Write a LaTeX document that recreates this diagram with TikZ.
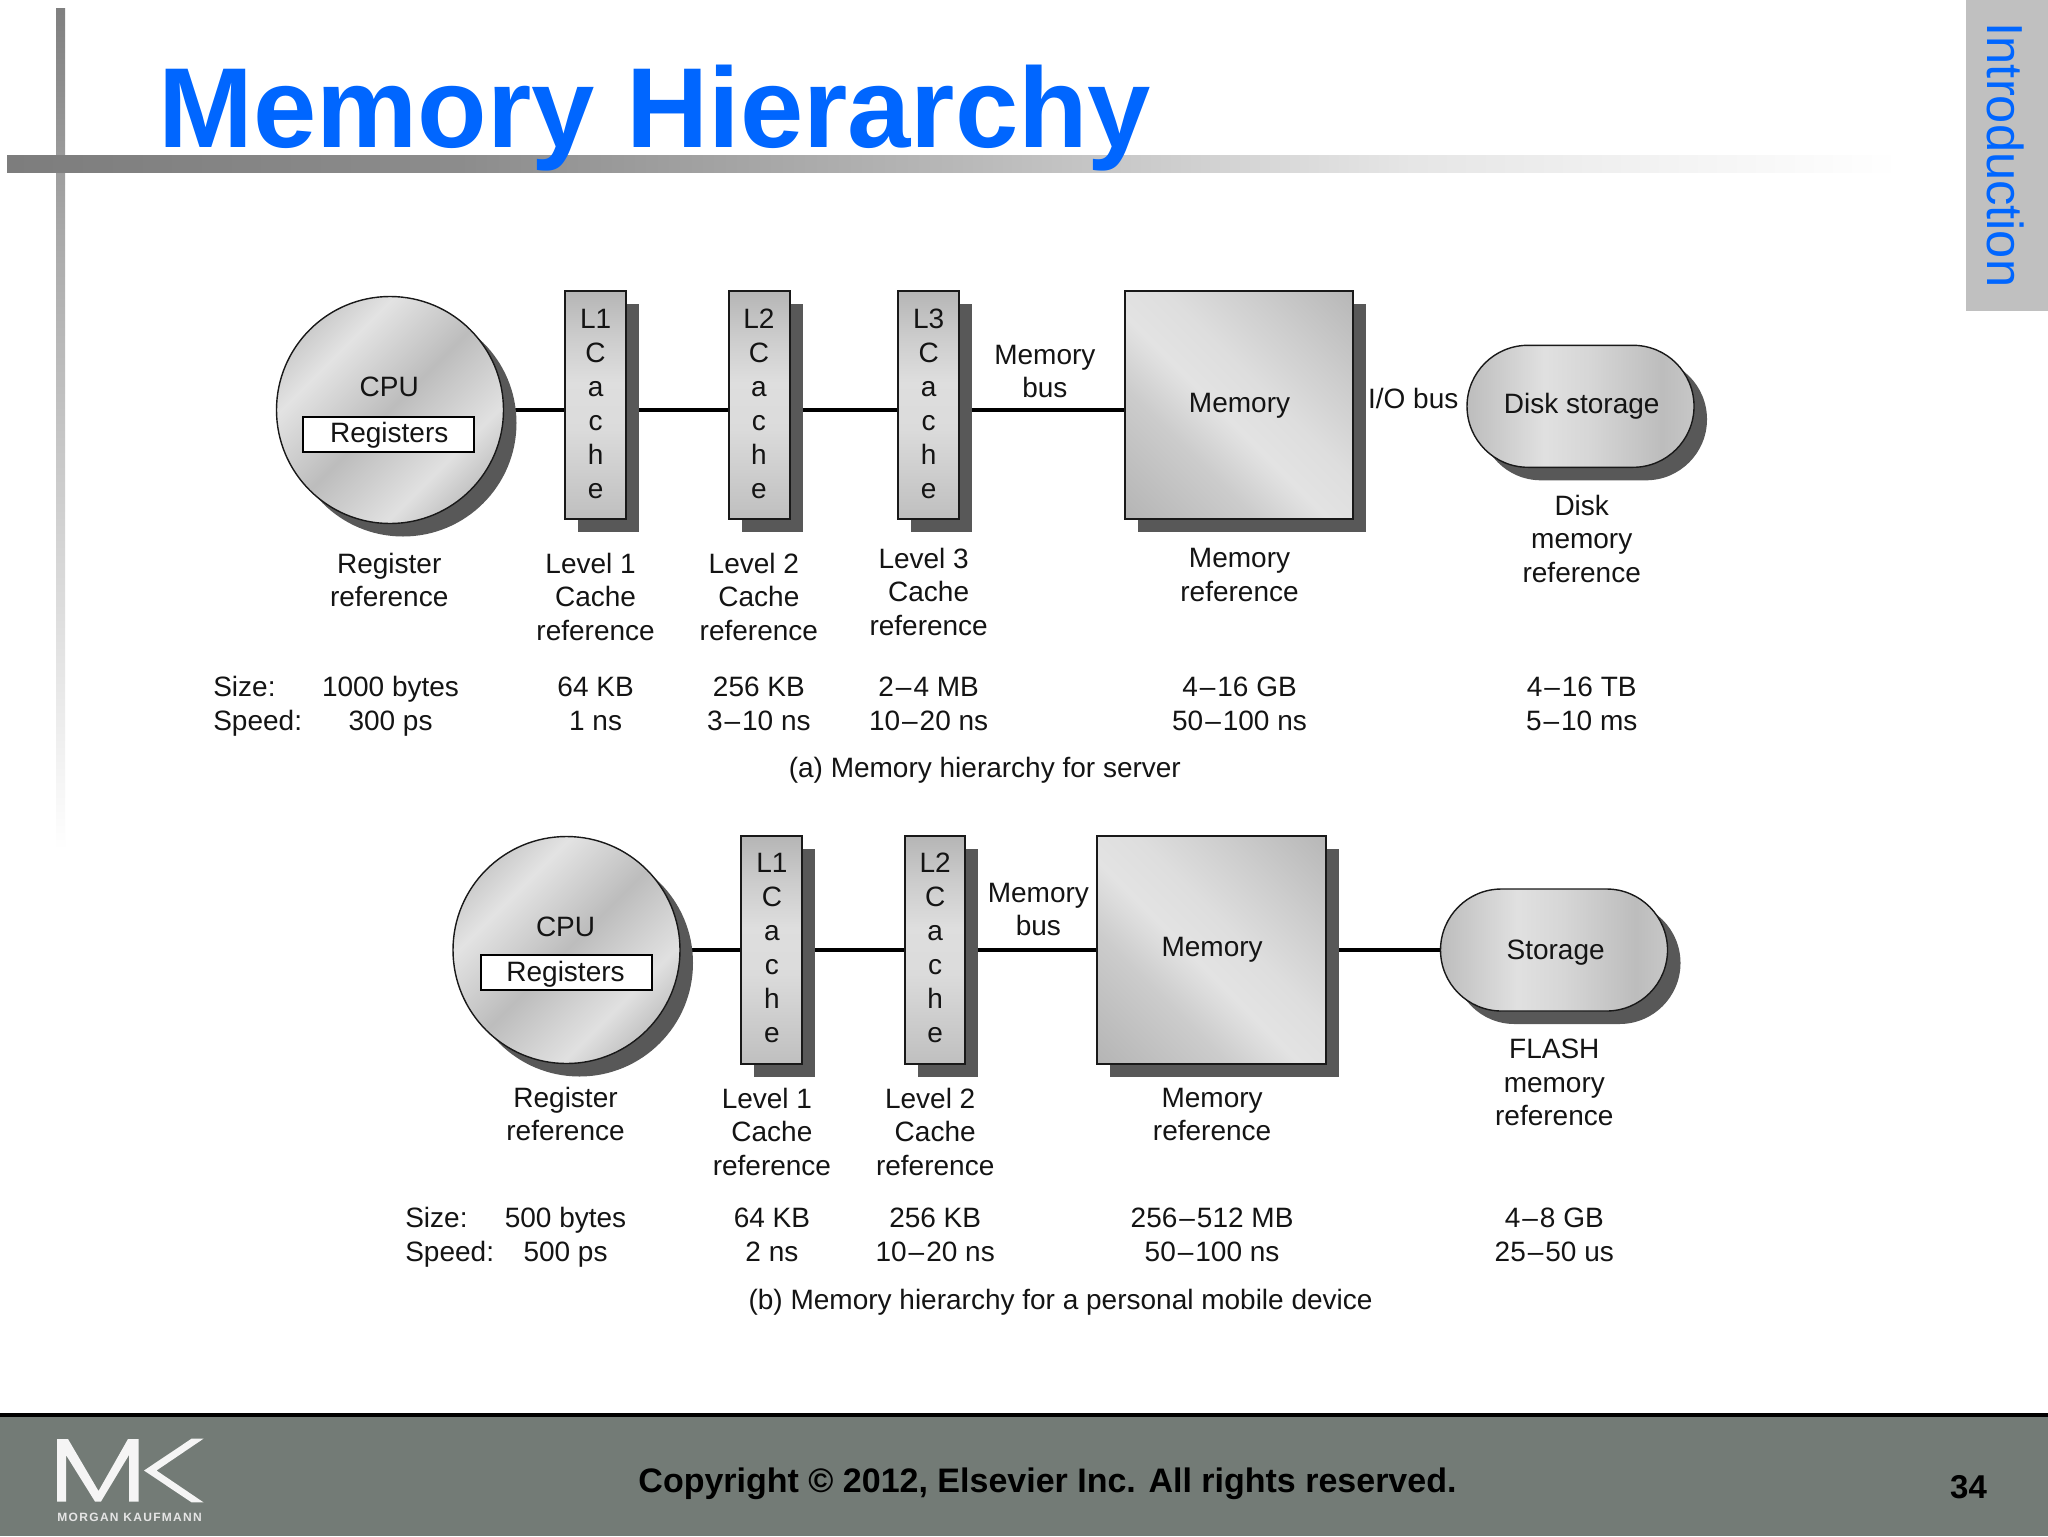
\documentclass[tikz,border=0pt]{standalone}
\usepackage{fontspec}
\setmainfont{Liberation Sans}
\usetikzlibrary{shapes.misc,backgrounds}
\pgfdeclarelayer{pagebg}
\pgfdeclarelayer{busses}
\pgfsetlayers{pagebg,busses,background,main}
\definecolor{titleblue}{HTML}{0066FF}
\definecolor{shadowgray}{HTML}{585858}
\definecolor{footgray}{HTML}{737B76}
\definecolor{tabgray}{HTML}{C0C0C0}
\pgfdeclareverticalshading{metalmem}{100bp}{rgb(0bp)=(.71,.71,.71);rgb(15bp)=(.71,.71,.71);rgb(35bp)=(.80,.80,.80);rgb(46bp)=(.89,.89,.89);rgb(56bp)=(.87,.87,.87);rgb(70bp)=(.80,.80,.80);rgb(85bp)=(.72,.72,.72);rgb(100bp)=(.72,.72,.72)}
\pgfdeclareverticalshading{metalcpu}{100bp}{rgb(0bp)=(.75,.75,.75);rgb(25bp)=(.77,.77,.77);rgb(33bp)=(.88,.88,.88);rgb(50bp)=(.74,.74,.74);rgb(67bp)=(.89,.89,.89);rgb(75bp)=(.80,.80,.80);rgb(100bp)=(.75,.75,.75)}
\pgfdeclareverticalshading{metalbox}{100bp}{rgb(0bp)=(.74,.74,.74);rgb(25bp)=(.75,.75,.75);rgb(45bp)=(.86,.86,.86);rgb(55bp)=(.87,.87,.87);rgb(65bp)=(.80,.80,.80);rgb(75bp)=(.71,.71,.71);rgb(100bp)=(.71,.71,.71)}
\pgfdeclareverticalshading{metaldisk}{100bp}{rgb(0bp)=(.76,.76,.76);rgb(25bp)=(.78,.78,.78);rgb(32bp)=(.74,.74,.74);rgb(48bp)=(.84,.84,.84);rgb(58bp)=(.88,.88,.88);rgb(75bp)=(.74,.74,.74);rgb(100bp)=(.74,.74,.74)}
\pgfdeclarehorizontalshading{barfade}{100bp}{color(0bp)=(white);rgb(25bp)=(.49,.49,.49);rgb(37bp)=(.55,.55,.55);rgb(50bp)=(.72,.72,.72);rgb(62bp)=(.90,.90,.90);rgb(75bp)=(1,1,1);color(100bp)=(white)}
\pgfdeclareverticalshading{barvfade}{100bp}{rgb(0bp)=(1,1,1);rgb(25bp)=(1,1,1);rgb(40bp)=(.86,.86,.86);rgb(60bp)=(.68,.68,.68);rgb(75bp)=(.50,.50,.50);rgb(100bp)=(.50,.50,.50)}
\tikzset{
  txt/.style={font=\fontsize{14}{16.75}\selectfont,align=center,inner sep=0pt,text=black!92,yshift=-1.3pt},
  lettering/.style={font=\fontsize{14}{17}\selectfont,align=center,inner sep=0pt,text=black!92,yshift=-1.3pt},
  cpudim/.style={circle,minimum size=113.5pt,inner sep=0pt},
  cachedim/.style={rectangle,minimum width=30.4pt,minimum height=114pt,inner sep=0pt},
  memdim/.style={rectangle,minimum width=114.3pt,minimum height=114pt,inner sep=0pt},
  diskdim/.style={rounded rectangle,minimum width=113.5pt,minimum height=61pt,inner sep=0pt},
  shadowfill/.style={fill=shadowgray,draw=none},
  cpushape/.style={cpudim,draw=black!90,line width=.7pt,shading=metalcpu,shading angle=45},
  cachebox/.style={cachedim,draw=black!90,line width=1pt,shading=metalbox},
  membox/.style={memdim,draw=black!90,line width=1pt,shading=metalmem,shading angle=-45},
  diskshape/.style={diskdim,draw=black!90,line width=.7pt,shading=metaldisk,shading angle=90},
  regbox/.style={draw=black,line width=1pt,fill=white,minimum width=85.5pt,minimum height=17.5pt,inner sep=0pt},
  bus/.style={line width=2pt,draw=black},
}
\newcommand{\cachetext}[1]{\strut #1\\\strut C\\\strut a\\\strut c\\\strut h\\\strut e}
\newcommand{\nd}{\kern1pt–\kern1pt}
\newcommand{\lv}[1]{\strut Level #1\kern5pt}
\begin{document}
\begin{tikzpicture}[x=0.5pt,y=-0.5pt]
\useasboundingbox (0,0) rectangle (2048,1536);
\begin{pgfonlayer}{pagebg}
\fill[white] (0,0) rectangle (2048,1536);
\end{pgfonlayer}
% frame bars
\shade[shading=barvfade] (56,9) rectangle (65,850);
\shade[shading=barfade] (7,155) rectangle (1900,172);
% side tab
\fill[tabgray] (1966,0) rectangle (2048,311);
\node[rotate=-90,anchor=base,inner sep=0pt,text=titleblue,font=\fontsize{25.3}{30}\selectfont] (tab) at (1987,155) {Introduction};
% title
\node[anchor=base west,inner sep=0pt,text=titleblue,font=\fontsize{56.9}{60}\selectfont\bfseries] (title) at (158,147.5) {Memory Hierarchy};
% footer
\fill[footgray] (0,1417) rectangle (2048,1536);
\fill[black] (0,1413) rectangle (2048,1417);
\fill[white!96!black] (57,1439) -- (68,1439) -- (98.5,1491) -- (128,1439) -- (138.5,1439) -- (138.5,1501.5) -- (129,1501.5) -- (129,1455) -- (101,1501.5) -- (95,1501.5) -- (66,1455) -- (66,1501.5) -- (57,1501.5) -- cycle;
\fill[white!96!black] (203.5,1438.7) -- (191.5,1438.7) -- (144,1470.5) -- (191.5,1502.3) -- (203.5,1502.3) -- (156.5,1470.5) -- cycle;
\node[anchor=base west,inner sep=0pt,text=white!90!black,font=\fontsize{6}{7}\selectfont\bfseries\addfontfeature{LetterSpace=11}] (mk) at (57,1521.5) {MORGAN KAUFMANN};
\node[anchor=center,inner sep=0pt,font=\fontsize{17}{20}\selectfont\bfseries] (copy) at (1047.5,1484) {Copyright © 2012, Elsevier Inc. All rights reserved.};
\node[anchor=center,inner sep=0pt,font=\fontsize{16.5}{20}\selectfont\bfseries] (pageno) at (1968.5,1487) {34};
% (a) server
\node[cpushape] (acpu) at (390,410) {};
\node[regbox] (areg) at (388.7,434) {};
\node[cachebox] (al1) at (595.6,404.7) {};
\node[cachebox] (al2) at (759.7,404.7) {};
\node[cachebox] (al3) at (928.5,404.7) {};
\node[membox] (amem) at (1239,404.7) {};
\node[diskshape] (adisk) at (1580.5,406.3) {};
% (b) mobile
\node[cpushape] (bcpu) at (566.5,950) {};
\node[regbox] (breg) at (566,972) {};
\node[cachebox] (bl1) at (771.8,950) {};
\node[cachebox] (bl2) at (935,950) {};
\node[membox] (bmem) at (1211.5,950) {};
\node[diskshape] (bdisk) at (1554,950) {};
% drop shadows
\begin{pgfonlayer}{background}
\foreach \nm/\dm in {acpu/cpudim,al1/cachedim,al2/cachedim,al3/cachedim,amem/memdim,adisk/diskdim,bcpu/cpudim,bl1/cachedim,bl2/cachedim,bmem/memdim,bdisk/diskdim}
  \node[\dm,shadowfill] (\nm-sh) at ([shift={(13,13)}]\nm.center) {};
\end{pgfonlayer}
% connectors
\begin{pgfonlayer}{busses}
\draw[bus] (acpu) -- (al1.center |- acpu);
\draw[bus] (al1.center |- acpu) -- (al2.center |- acpu);
\draw[bus] (al2.center |- acpu) -- (al3.center |- acpu);
\draw[bus] (al3.center |- acpu) -- (amem.center |- acpu);
\draw[bus] (bcpu) -- (bl1);
\draw[bus] (bl1) -- (bl2);
\draw[bus] (bl2) -- (bmem);
\draw[bus] (bmem) -- (bdisk);
\end{pgfonlayer}
% texts in display coordinates
\begin{scope}[x=0.65306pt,y=-0.65306pt]
% -- (a)
\node[lettering] (al1t) at (456,309.5) {\cachetext{L1}};
\node[lettering] (al2t) at (581,309.5) {\cachetext{L2}};
\node[lettering] (al3t) at (711,309.5) {\cachetext{L3}};
\node[txt] (acput) at (298,294) {CPU};
\node[txt] (aregt) at (298,331) {Registers};
\node[txt] (amemt) at (949,309) {Memory};
\node[txt] (adiskt) at (1211,309) {Disk storage};
\node[txt] (abus) at (800,284.5) {\strut Memory\\\strut bus};
\node[txt] (aio) at (1082,303) {I/O bus};
\node[txt] (a1) at (298,444.5) {\strut Register\\\strut reference};
\node[txt] (a2) at (456,457.5) {\lv{1}\\\strut Cache\\\strut reference};
\node[txt] (a3) at (581,457.5) {\lv{2}\\\strut Cache\\\strut reference};
\node[txt] (a4) at (711,453.5) {\lv{3}\\\strut Cache\\\strut reference};
\node[txt] (a5) at (949,440.5) {\strut Memory\\\strut reference};
\node[txt] (a6) at (1211,413) {\strut Disk\\\strut memory\\\strut reference};
\node[txt,align=left,anchor=west] (a7) at (163,539) {\strut Size:\\\strut Speed:};
\node[txt] (a8) at (299,539) {\strut 1000 bytes\\\strut 300 ps};
\node[txt] (a9) at (456,539) {\strut 64 KB\\\strut 1 ns};
\node[txt] (a10) at (581,539) {\strut 256 KB\\\strut 3\nd 10 ns};
\node[txt] (a11) at (711,539) {\strut 2\nd 4 MB\\\strut 10\nd 20 ns};
\node[txt] (a12) at (949,539) {\strut 4\nd 16 GB\\\strut 50\nd 100 ns};
\node[txt] (a13) at (1211,539) {\strut 4\nd 16 TB\\\strut 5\nd 10 ms};
\node[txt] (acap) at (754,588) {(a) Memory hierarchy for server};
% -- (b)
\node[lettering] (bl1t) at (591,726) {\cachetext{L1}};
\node[lettering] (bl2t) at (716,726) {\cachetext{L2}};
\node[txt] (bcput) at (433,708) {CPU};
\node[txt] (bregt) at (433,744) {Registers};
\node[txt] (bmemt) at (928,725) {Memory};
\node[txt] (bdiskt) at (1191,727) {Storage};
\node[txt] (bbus) at (795,696.5) {\strut Memory\\\strut bus};
\node[txt] (b1) at (433,853.5) {\strut Register\\\strut reference};
\node[txt] (b2) at (591,867) {\lv{1}\\\strut Cache\\\strut reference};
\node[txt] (b3) at (716,867) {\lv{2}\\\strut Cache\\\strut reference};
\node[txt] (b5) at (928,853.5) {\strut Memory\\\strut reference};
\node[txt] (b6) at (1190,829) {\strut FLASH\\\strut memory\\\strut reference};
\node[txt,align=left,anchor=west] (b7) at (310,945.5) {\strut Size:\\\strut Speed:};
\node[txt] (b8) at (433,945.5) {\strut 500 bytes\\\strut 500 ps};
\node[txt] (b9) at (591,945.5) {\strut 64 KB\\\strut 2 ns};
\node[txt] (b10) at (716,945.5) {\strut 256 KB\\\strut 10\nd 20 ns};
\node[txt] (b11) at (928,945.5) {\strut 256\nd 512 MB\\\strut 50\nd 100 ns};
\node[txt] (b12) at (1190,945.5) {\strut 4\nd 8 GB\\\strut 25\nd 50 us};
\node[txt] (bcap) at (812,995) {(b) Memory hierarchy for a personal mobile device};
\end{scope}
\end{tikzpicture}
\end{document}
